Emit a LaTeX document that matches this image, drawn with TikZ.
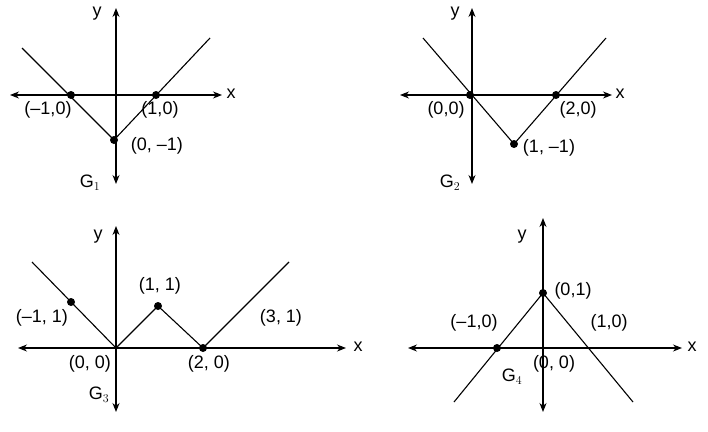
\documentclass[tikz,border=0pt]{standalone}
\usepackage{fontspec}
\setmainfont{Liberation Sans}
\usetikzlibrary{arrows.meta}
\tikzset{axis/.style={{Stealth[length=9pt,width=7pt]}-{Stealth[length=9pt,width=7pt]},line width=1.1pt},
  graph/.style={line width=1.1pt},
  dot/.style={circle,fill,inner sep=0pt,minimum size=8pt},
  lbl/.style={font=\fontsize{18}{20}\selectfont,inner sep=1pt}}
\begin{document}
\begin{tikzpicture}[x=1pt,y=-1pt]
      \useasboundingbox (0,0) rectangle (708,431);
      % G1
      \coordinate (a1l) at (10,95); \coordinate (a1r) at (222,95);
      \coordinate (a1t) at (116,8); \coordinate (a1b) at (116,184);
      \draw[axis] (a1l) -- (a1r); \draw[axis] (a1b) -- (a1t);
      \node[dot] (p1a) at (71,95) {}; \node[dot] (p1b) at (156,95) {}; \node[dot] (p1c) at (114,140) {};
      \draw[graph] (22,48) -- (p1c.center) -- (210,38);
      \node[lbl] (y1) at (97,14) {y}; \node[lbl] (x1) at (231,94) {x};
      \node[lbl] (l1a) at (48,110) {(–1,0)}; \node[lbl] (l1b) at (160,110) {(1,0)};
      \node[lbl] (l1c) at (157,146) {(0, –1)}; \node[lbl] (g1) at (90,183) {G$_1$};
      % G2
      \coordinate (a2l) at (400,95); \coordinate (a2r) at (612,95);
      \coordinate (a2t) at (472,8); \coordinate (a2b) at (472,184);
      \draw[axis] (a2l) -- (a2r); \draw[axis] (a2b) -- (a2t);
      \node[dot] (p2a) at (470,95) {}; \node[dot] (p2b) at (556,95) {}; \node[dot] (p2c) at (514,144) {};
      \draw[graph] (423,38) -- (p2c.center) -- (606,38);
      \node[lbl] (y2) at (455,14) {y}; \node[lbl] (x2) at (620,94) {x};
      \node[lbl] (l2a) at (446,110) {(0,0)}; \node[lbl] (l2b) at (578,110) {(2,0)};
      \node[lbl] (l2c) at (549,148) {(1, –1)}; \node[lbl] (g2) at (450,183) {G$_2$};
      % G3
      \coordinate (a3l) at (18,348); \coordinate (a3r) at (346,348);
      \coordinate (a3t) at (116,226); \coordinate (a3b) at (116,412);
      \draw[axis] (a3l) -- (a3r); \draw[axis] (a3b) -- (a3t);
      \node[dot] (p3a) at (71,302) {}; \node[dot] (p3b) at (158,306) {}; \node[dot] (p3c) at (203,348) {};
      \draw[graph] (32,262) -- (116,348) -- (p3b.center) -- (p3c.center) -- (289,262);
      \node[lbl] (y3) at (98,237) {y}; \node[lbl] (x3) at (358,347) {x};
      \node[lbl] (l3a) at (42,318) {(–1, 1)}; \node[lbl] (l3b) at (160,286) {(1, 1)};
      \node[lbl] (l3c) at (281,318) {(3, 1)}; \node[lbl] (l3d) at (90,364) {(0, 0)};
      \node[lbl] (l3e) at (209,364) {(2, 0)}; \node[lbl] (g3) at (99,395) {G$_3$};
      % G4
      \coordinate (a4l) at (408,348); \coordinate (a4r) at (682,348);
      \coordinate (a4t) at (543,218); \coordinate (a4b) at (543,412);
      \draw[axis] (a4l) -- (a4r); \draw[axis] (a4b) -- (a4t);
      \node[dot] (p4a) at (497,348) {}; \node[dot] (p4b) at (543,293) {};
      \draw[graph] (454,402) -- (p4b.center) -- (633,402);
      \node[lbl] (y4) at (522,237) {y}; \node[lbl] (x4) at (692,347) {x};
      \node[lbl] (l4a) at (474,323) {(–1,0)}; \node[lbl] (l4b) at (573,291) {(0,1)};
      \node[lbl] (l4c) at (609,323) {(1,0)}; \node[lbl] (l4d) at (554,364) {(0, 0)};
      \node[lbl] (g4) at (512,377) {G$_4$};
    \end{tikzpicture}
\end{document}
